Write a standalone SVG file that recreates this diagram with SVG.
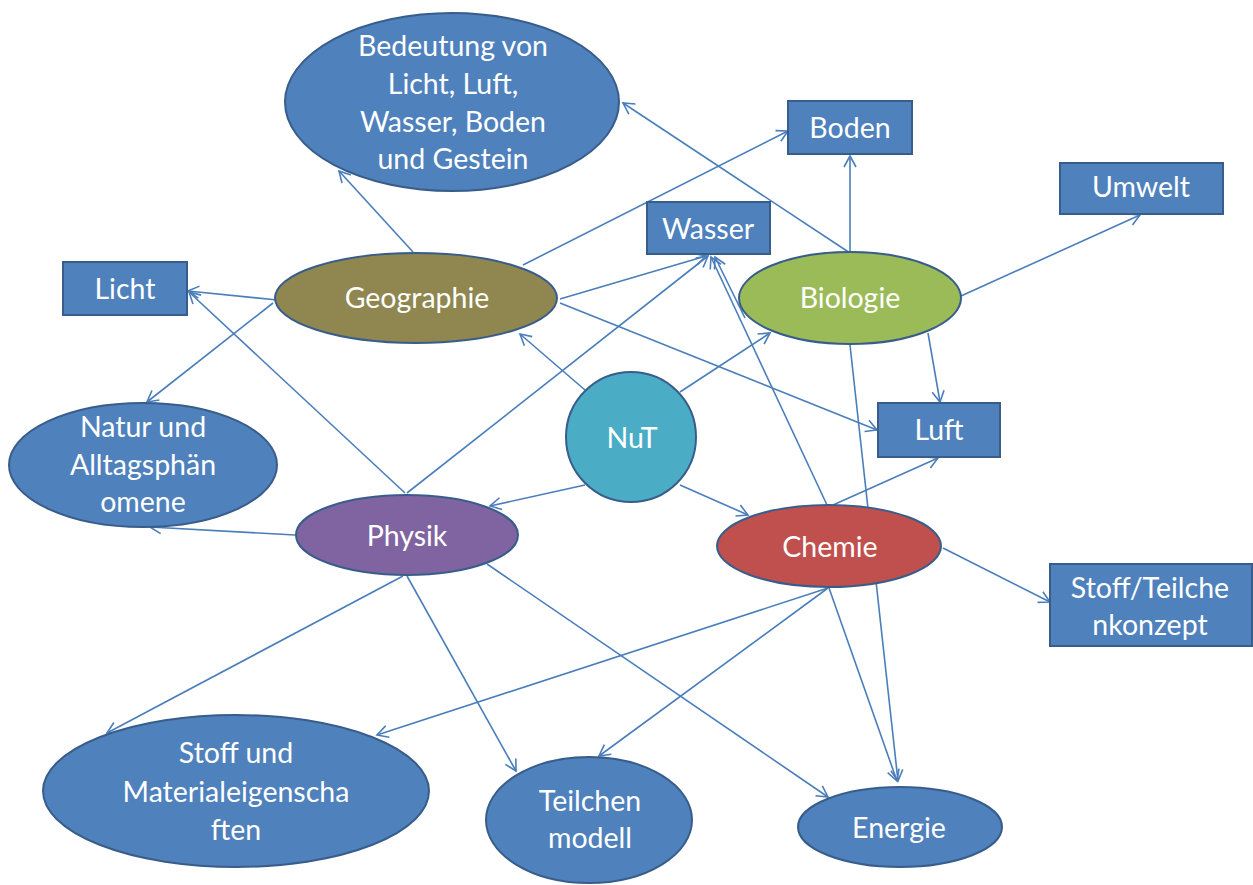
<svg xmlns="http://www.w3.org/2000/svg" width="1253" height="885" viewBox="0 0 1253 885">
<style>
.bg{fill:#ffffff}
.c line{stroke:#4A7EBB;stroke-width:1.6;fill:none;marker-end:url(#arr)}
.blue{fill:#4F81BD;stroke:#385D8A;stroke-width:2}
.geo{fill:#8F8650;stroke:#385D8A;stroke-width:2}
.bio{fill:#9BBB59;stroke:#385D8A;stroke-width:2}
.phy{fill:#8064A2;stroke:#385D8A;stroke-width:2}
.che{fill:#C0504D;stroke:#385D8A;stroke-width:2}
.nut{fill:#4BACC6;stroke:#385D8A;stroke-width:2}
text{font-family:Lato,"Liberation Sans",sans-serif;font-size:28.5px;fill:#ffffff;text-anchor:middle}
</style>
<defs>
<marker id="arr" markerUnits="userSpaceOnUse" viewBox="-13 -8 15 16" markerWidth="15" markerHeight="16" refX="0" refY="0" orient="auto">
<path d="M-11,-6 L0,0 L-11,6" fill="none" stroke="#4A7EBB" stroke-width="1.6"/>
</marker>
</defs>
<rect class="bg" x="0" y="0" width="1253" height="885"/>
<g id="connectors" class="c">
<line x1="413" y1="252" x2="339" y2="171"/>
<line x1="850" y1="253" x2="623" y2="103"/>
<line x1="523" y1="265" x2="788" y2="131"/>
<line x1="850" y1="253" x2="850" y2="156"/>
<line x1="961" y1="296" x2="1140" y2="215"/>
<line x1="560" y1="299" x2="706" y2="256"/>
<line x1="407" y1="493" x2="708" y2="256"/>
<line x1="827" y1="505" x2="711" y2="257"/>
<line x1="745" y1="318" x2="715" y2="257"/>
<line x1="277" y1="300" x2="188" y2="291"/>
<line x1="405" y1="493" x2="189" y2="292"/>
<line x1="273" y1="303" x2="147" y2="402"/>
<line x1="295" y1="535" x2="150" y2="527"/>
<line x1="585" y1="390" x2="520" y2="334"/>
<line x1="680" y1="392" x2="770" y2="333"/>
<line x1="585" y1="485" x2="490" y2="506"/>
<line x1="680" y1="485" x2="748" y2="515"/>
<line x1="560" y1="303" x2="877" y2="430"/>
<line x1="928" y1="333" x2="940" y2="402"/>
<line x1="833" y1="505" x2="938" y2="458"/>
<line x1="943" y1="548" x2="1050" y2="602"/>
<line x1="850" y1="345" x2="898" y2="781"/>
<line x1="829" y1="588" x2="897" y2="781"/>
<line x1="828" y1="588" x2="377" y2="735"/>
<line x1="828" y1="588" x2="599" y2="756"/>
<line x1="403" y1="576" x2="107" y2="733"/>
<line x1="407" y1="576" x2="516" y2="771"/>
<line x1="487" y1="564" x2="828" y2="797"/>
</g>
<g id="bedeutung">
<ellipse class="blue" cx="452" cy="102" rx="167" ry="89"/>
<text x="453" y="56">Bedeutung von</text>
<text x="453" y="94">Licht, Luft,</text>
<text x="453" y="132">Wasser, Boden</text>
<text x="453" y="169">und Gestein</text>
</g>
<g id="boden">
<rect class="blue" x="788" y="101" width="124" height="53"/>
<text x="850" y="138">Boden</text>
</g>
<g id="umwelt">
<rect class="blue" x="1060" y="163" width="163" height="51"/>
<text x="1141" y="197">Umwelt</text>
</g>
<g id="wasser">
<rect class="blue" x="647" y="202" width="123" height="52"/>
<text x="708" y="239">Wasser</text>
</g>
<g id="licht">
<rect class="blue" x="63" y="262" width="124" height="53"/>
<text x="125" y="299">Licht</text>
</g>
<g id="geographie">
<ellipse class="geo" cx="416" cy="298" rx="141" ry="45"/>
<text x="417" y="308">Geographie</text>
</g>
<g id="biologie">
<ellipse class="bio" cx="850" cy="298" rx="111" ry="46"/>
<text x="850" y="308">Biologie</text>
</g>
<g id="luft">
<rect class="blue" x="878" y="403" width="122" height="54"/>
<text x="939" y="440">Luft</text>
</g>
<g id="natur">
<ellipse class="blue" cx="143" cy="465" rx="134" ry="62"/>
<text x="143" y="437">Natur und</text>
<text x="143" y="475">Alltagsphän</text>
<text x="143" y="512">omene</text>
</g>
<g id="nut">
<circle class="nut" cx="631" cy="437" r="65"/>
<text x="632" y="448">NuT</text>
</g>
<g id="physik">
<ellipse class="phy" cx="407" cy="535" rx="111" ry="40"/>
<text x="407" y="546">Physik</text>
</g>
<g id="chemie">
<ellipse class="che" cx="829" cy="546" rx="112" ry="41"/>
<text x="830" y="557">Chemie</text>
</g>
<g id="stoffteilchenkonzept">
<rect class="blue" x="1050" y="564" width="202" height="82"/>
<text x="1150" y="598">Stoff/Teilche</text>
<text x="1150" y="635">nkonzept</text>
</g>
<g id="stoffmaterial">
<ellipse class="blue" cx="236" cy="791" rx="193" ry="76"/>
<text x="236" y="763">Stoff und</text>
<text x="236" y="802">Materialeigenscha</text>
<text x="236" y="840">ften</text>
</g>
<g id="teilchenmodell">
<ellipse class="blue" cx="589" cy="820" rx="103" ry="63"/>
<text x="590" y="811">Teilchen</text>
<text x="590" y="848">modell</text>
</g>
<g id="energie">
<ellipse class="blue" cx="900" cy="827" rx="102" ry="40"/>
<text x="899" y="838">Energie</text>
</g>
</svg>
